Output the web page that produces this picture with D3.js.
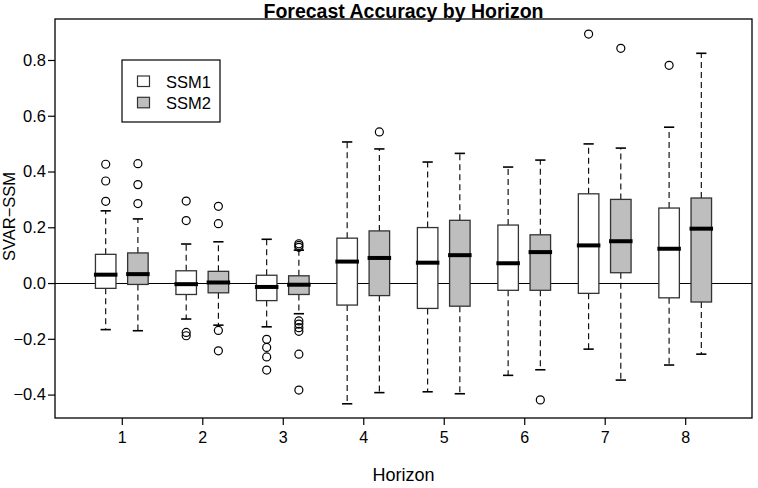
<!DOCTYPE html>
<html>
<head>
<meta charset="utf-8">
<script src="https://cdn.jsdelivr.net/npm/d3@7"></script>
<style>
  html, body { margin: 0; padding: 0; background: #fff; }
  svg { display: block; font-family: "Liberation Sans", Arial, Helvetica, sans-serif; }
</style>
</head>
<body>
<svg id="chart" width="758" height="488"></svg>
<script>
// ---- Data ----
const horizons = [1, 2, 3, 4, 5, 6, 7, 8];
const seriesNames = ["SSM1", "SSM2"];
const yTicks = [-0.4, -0.2, 0.0, 0.2, 0.4, 0.6, 0.8];

const ssm1Low  = [-0.167, -0.129, -0.157, -0.433, -0.390, -0.331, -0.237, -0.294];
const ssm1Q1   = [-0.019, -0.041, -0.063, -0.079, -0.091, -0.026, -0.037, -0.053];
const ssm1Med  = [ 0.030, -0.004, -0.014,  0.077,  0.073,  0.071,  0.135,  0.123];
const ssm1Q3   = [ 0.103,  0.044,  0.028,  0.161,  0.199,  0.208,  0.320,  0.269];
const ssm1High = [ 0.259,  0.140,  0.157,  0.506,  0.434,  0.416,  0.499,  0.559];
const ssm1Out  = [[0.426, 0.366, 0.293], [0.294, 0.224, -0.177, -0.189],
                  [-0.202, -0.231, -0.265, -0.312], [], [], [], [0.893], [0.781]];

const ssm2Low  = [-0.171, -0.151, -0.110, -0.393, -0.397, -0.311, -0.348, -0.255];
const ssm2Q1   = [-0.005, -0.035, -0.041, -0.045, -0.083, -0.026,  0.037, -0.068];
const ssm2Med  = [ 0.032,  0.002, -0.006,  0.090,  0.100,  0.111,  0.150,  0.195];
const ssm2Q3   = [ 0.108,  0.042,  0.026,  0.187,  0.225,  0.173,  0.300,  0.305];
const ssm2High = [ 0.230,  0.148,  0.118,  0.481,  0.465,  0.441,  0.484,  0.824];
const ssm2Out  = [[0.428, 0.353, 0.285], [0.275, 0.213, -0.170, -0.243],
                  [0.141, 0.135, 0.128, -0.136, -0.147, -0.160, -0.173, -0.255, -0.384],
                  [0.542], [], [-0.419], [0.842], []];

// ---- Build boxes table ----
const series = [
  { name: "SSM1", fill: "#ffffff", offset: -0.2, low: ssm1Low, q1: ssm1Q1, med: ssm1Med, q3: ssm1Q3, high: ssm1High, out: ssm1Out },
  { name: "SSM2", fill: "#bebebe", offset: 0.2, low: ssm2Low, q1: ssm2Q1, med: ssm2Med, q3: ssm2Q3, high: ssm2High, out: ssm2Out }
];
const boxes = [];
series.forEach(s => horizons.forEach((h, i) => {
  boxes.push({ h, pos: h + s.offset, fill: s.fill, low: s.low[i], q1: s.q1[i], med: s.med[i], q3: s.q3[i], high: s.high[i], out: s.out[i] });
}));

// ---- Layout ----
const plot = { left: 55, right: 752, top: 19, bottom: 418 };
const x = d3.scaleLinear().domain([0.17, 8.83]).range([plot.left, plot.right]);
const y = d3.scaleLinear().domain([-0.484, 0.947]).range([plot.bottom, plot.top]);
const boxHalf = (x(0.1275) - x(0));
const capHalf = boxHalf * 0.5;

const svg = d3.select("#chart");

// zero line
svg.append("line")
  .attr("x1", plot.left).attr("x2", plot.right)
  .attr("y1", Math.round(y(0)) + 0.5).attr("y2", Math.round(y(0)) + 0.5)
  .attr("stroke", "#000").attr("stroke-width", 1.2);

const g = svg.append("g");
const bg = g.selectAll("g.box").data(boxes).enter().append("g").attr("class", "box");

// whiskers (dashed)
bg.append("line")
  .attr("x1", d => x(d.pos)).attr("x2", d => x(d.pos))
  .attr("y1", d => y(d.q3)).attr("y2", d => y(d.high))
  .attr("stroke", "#000").attr("stroke-width", 1.1).attr("stroke-dasharray", "6,4");
bg.append("line")
  .attr("x1", d => x(d.pos)).attr("x2", d => x(d.pos))
  .attr("y1", d => y(d.q1)).attr("y2", d => y(d.low))
  .attr("stroke", "#000").attr("stroke-width", 1.1).attr("stroke-dasharray", "6,4");
// caps
bg.append("line")
  .attr("x1", d => x(d.pos) - capHalf).attr("x2", d => x(d.pos) + capHalf)
  .attr("y1", d => y(d.high)).attr("y2", d => y(d.high))
  .attr("stroke", "#000").attr("stroke-width", 1.6);
bg.append("line")
  .attr("x1", d => x(d.pos) - capHalf).attr("x2", d => x(d.pos) + capHalf)
  .attr("y1", d => y(d.low)).attr("y2", d => y(d.low))
  .attr("stroke", "#000").attr("stroke-width", 1.6);
// box
bg.append("rect")
  .attr("x", d => x(d.pos) - boxHalf)
  .attr("width", boxHalf * 2)
  .attr("y", d => y(d.q3))
  .attr("height", d => y(d.q1) - y(d.q3))
  .attr("fill", d => d.fill)
  .attr("stroke", "#333").attr("stroke-width", 1.3);
// median
bg.append("line")
  .attr("x1", d => x(d.pos) - boxHalf - 1.5).attr("x2", d => x(d.pos) + boxHalf + 1.5)
  .attr("y1", d => y(d.med)).attr("y2", d => y(d.med))
  .attr("stroke", "#000").attr("stroke-width", 4);
// outliers
bg.selectAll("circle").data(d => d.out.map(v => ({ pos: d.pos, v }))).enter().append("circle")
  .attr("cx", d => x(d.pos)).attr("cy", d => y(d.v)).attr("r", 4)
  .attr("fill", "none").attr("stroke", "#000").attr("stroke-width", 1.2);

// frame
svg.append("rect")
  .attr("x", plot.left).attr("y", plot.top)
  .attr("width", plot.right - plot.left).attr("height", plot.bottom - plot.top)
  .attr("fill", "none").attr("stroke", "#000").attr("stroke-width", 1.3);

// y axis
const yAxis = d3.axisLeft(y).tickValues(yTicks).tickSize(7).tickPadding(2)
  .tickFormat(d => d3.format(".1f")(d).replace("-", "\u2212"));
svg.append("g").attr("transform", `translate(${plot.left},0)`).call(yAxis)
  .call(a => a.select(".domain").remove())
  .call(a => a.selectAll("line").attr("stroke", "#000").attr("stroke-width", 1.2))
  .call(a => a.selectAll("text").attr("font-size", 16.5).attr("fill", "#000")
    .attr("font-family", "Liberation Sans, Arial, sans-serif"));

// x axis
const xAxis = d3.axisBottom(x).tickValues(horizons).tickSize(7).tickPadding(7)
  .tickFormat(d3.format("d"));
svg.append("g").attr("transform", `translate(0,${plot.bottom})`).call(xAxis)
  .call(a => a.select(".domain").remove())
  .call(a => a.selectAll("line").attr("stroke", "#000").attr("stroke-width", 1.2))
  .call(a => a.selectAll("text").attr("font-size", 16).attr("fill", "#000")
    .attr("font-family", "Liberation Sans, Arial, sans-serif"));

// title
svg.append("text")
  .attr("x", (plot.left + plot.right) / 2).attr("y", 17.8)
  .attr("text-anchor", "middle").attr("font-weight", "bold").attr("font-size", 19.5)
  .text("Forecast Accuracy by Horizon");

// axis titles
svg.append("text")
  .attr("x", (plot.left + plot.right) / 2).attr("y", 481)
  .attr("text-anchor", "middle").attr("font-size", 18)
  .text("Horizon");
svg.append("text")
  .attr("transform", `translate(15,${(plot.top + plot.bottom) / 2 - 2}) rotate(-90)`)
  .attr("text-anchor", "middle").attr("font-size", 16.5)
  .text("SVAR\u2212SSM");

// legend
const leg = svg.append("g");
leg.append("rect").attr("x", 122).attr("y", 60).attr("width", 98).attr("height", 62)
  .attr("fill", "#fff").attr("stroke", "#000").attr("stroke-width", 1.2);
seriesNames.forEach((name, i) => {
  leg.append("rect").attr("x", 137.5).attr("y", 76 + i * 21.3).attr("width", 12).attr("height", 10.5)
    .attr("fill", series[i].fill).attr("stroke", "#333").attr("stroke-width", 1.2);
  leg.append("text").attr("x", 166).attr("y", 87.5 + i * 21.3).attr("font-size", 16.5)
    .text(name);
});
</script>
</body>
</html>
